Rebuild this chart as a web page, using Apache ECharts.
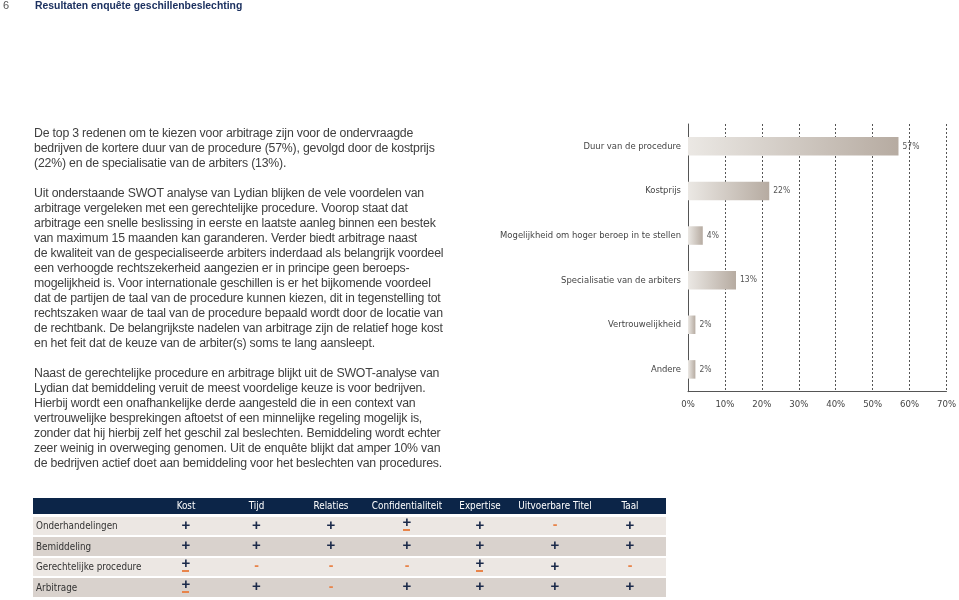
<!DOCTYPE html>
<html>
<head>
<meta charset="utf-8">
<script src="https://cdn.jsdelivr.net/npm/echarts@6/dist/echarts.min.js"></script>
<style>
  html, body { margin:0; padding:0; background:#fff; }
  body { width:959px; height:600px; position:relative; overflow:hidden; }
  #chart { position:absolute; left:0; top:0; width:959px; height:600px; }
  .abs { position:absolute; }
  #pagenum { left:3px; top:-1px; font:11px "Liberation Sans", Arial, sans-serif; color:#555; line-height:13px; }
  #title { left:35px; top:-1px; font:bold 10.4px "Liberation Sans", Arial, sans-serif; color:#1c3160; line-height:13px; }
  #text { left:34px; top:125.5px; width:420px; font:12.3px "Liberation Sans", Arial, sans-serif; letter-spacing:-0.2px; color:#404040; line-height:15px; }
  #text p { margin:0 0 15px 0; white-space:nowrap; }
  #table { left:33px; top:498px; width:633px; font-family:"DejaVu Sans Condensed",sans-serif; font-size:9.8px; white-space:nowrap; }
  .trow { display:grid; grid-template-columns:118px 70px 71px 78px 74px 72px 78px 72px; align-items:center; }
  .thead { background:#0c2548; color:#fff; height:16px; line-height:16px; margin-bottom:2.5px; }
  .tbody { height:18.5px; line-height:18.5px; margin-bottom:2px; color:#333; }
  .tbody.odd { background:#ece7e3; }
  .tbody.even { background:#d9d2cd; }
  .c { text-align:center; position:relative; }
  .lbl { padding-left:3px; }
  .plus { color:#1b2a4a; font:bold 15px "Liberation Sans", Arial, sans-serif; line-height:15px; }
  .minus { color:#e8844a; font:bold 14px "Liberation Sans", Arial, sans-serif; line-height:15px; }
  .pm { display:inline-block; position:relative; color:#1b2a4a; font:bold 15px "Liberation Sans", Arial, sans-serif; line-height:13px; top:-2px; }
  .pm i { position:absolute; left:50%; margin-left:-3.5px; bottom:-3px; width:7px; height:2px; background:#e8844a; }
</style>
</head>
<body>
<div id="chart"></div>
<div id="pagenum" class="abs">6</div>
<div id="title" class="abs">Resultaten enquête geschillenbeslechting</div>
<div id="text" class="abs"></div>
<div id="table" class="abs"></div>
<script>
// ---- chart data ----
const categories = [
  'Duur van de procedure',
  'Kostprijs',
  'Mogelijkheid om hoger beroep in te stellen',
  'Specialisatie van de arbiters',
  'Vertrouwelijkheid',
  'Andere'
];
const values = [57, 22, 4, 13, 2, 2];
const axisTicks = [0, 10, 20, 30, 40, 50, 60, 70];

// ---- page text ----
const pageTitle = 'Resultaten enquête geschillenbeslechting';
const paragraphs = [
  ['De top 3 redenen om te kiezen voor arbitrage zijn voor de ondervraagde',
   'bedrijven de kortere duur van de procedure (57%), gevolgd door de kostprijs',
   '(22%) en de specialisatie van de arbiters (13%).'],
  ['Uit onderstaande SWOT analyse van Lydian blijken de vele voordelen van',
   'arbitrage vergeleken met een gerechtelijke procedure. Voorop staat dat',
   'arbitrage een snelle beslissing in eerste en laatste aanleg binnen een bestek',
   'van maximum 15 maanden kan garanderen. Verder biedt arbitrage naast',
   'de kwaliteit van de gespecialiseerde arbiters inderdaad als belangrijk voordeel',
   'een verhoogde rechtszekerheid aangezien er in principe geen beroeps-',
   'mogelijkheid is. Voor internationale geschillen is er het bijkomende voordeel',
   'dat de partijen de taal van de procedure kunnen kiezen, dit in tegenstelling tot',
   'rechtszaken waar de taal van de procedure bepaald wordt door de locatie van',
   'de rechtbank. De belangrijkste nadelen van arbitrage zijn de relatief hoge kost',
   'en het feit dat de keuze van de arbiter(s) soms te lang aansleept.'],
  ['Naast de gerechtelijke procedure en arbitrage blijkt uit de SWOT-analyse van',
   'Lydian dat bemiddeling veruit de meest voordelige keuze is voor bedrijven.',
   'Hierbij wordt een onafhankelijke derde aangesteld die in een context van',
   'vertrouwelijke besprekingen aftoetst of een minnelijke regeling mogelijk is,',
   'zonder dat hij hierbij zelf het geschil zal beslechten. Bemiddeling wordt echter',
   'zeer weinig in overweging genomen. Uit de enquête blijkt dat amper 10% van',
   'de bedrijven actief doet aan bemiddeling voor het beslechten van procedures.']
];

// ---- table data ----
const tableCols = ['Kost', 'Tijd', 'Relaties', 'Confidentialiteit', 'Expertise', 'Uitvoerbare Titel', 'Taal'];
const tableRows = ['Onderhandelingen', 'Bemiddeling', 'Gerechtelijke procedure', 'Arbitrage'];
const tableValues = [
  ['+', '+', '+', '±', '+', '-', '+'],
  ['+', '+', '+', '+', '+', '+', '+'],
  ['±', '-', '-', '-', '±', '+', '-'],
  ['±', '+', '-', '+', '+', '+', '+']
];

// build text
document.getElementById('title').textContent = pageTitle;
const textEl = document.getElementById('text');
paragraphs.forEach(lines => {
  const p = document.createElement('p');
  lines.forEach((l, i) => {
    if (i) p.appendChild(document.createElement('br'));
    p.appendChild(document.createTextNode(l));
  });
  textEl.appendChild(p);
});

// build table
const tbl = document.getElementById('table');
const head = document.createElement('div');
head.className = 'trow thead';
head.appendChild(document.createElement('div'));
tableCols.forEach(c => { const d = document.createElement('div'); d.className = 'c'; d.textContent = c; head.appendChild(d); });
tbl.appendChild(head);
tableRows.forEach((r, ri) => {
  const row = document.createElement('div');
  row.className = 'trow tbody ' + (ri % 2 === 0 ? 'odd' : 'even');
  const l = document.createElement('div'); l.className = 'lbl'; l.textContent = r; row.appendChild(l);
  tableValues[ri].forEach(v => {
    const d = document.createElement('div'); d.className = 'c';
    const s = document.createElement('span');
    if (v === '+') { s.className = 'plus'; s.textContent = '+'; }
    else if (v === '-') { s.className = 'minus'; s.textContent = '-'; }
    else { s.className = 'pm'; s.textContent = '+'; s.appendChild(document.createElement('i')); s.title = '±'; }
    d.appendChild(s); row.appendChild(d);
  });
  tbl.appendChild(row);
});

// chart
const chart = echarts.init(document.getElementById('chart'), null, { renderer: 'canvas' });
const narrow = '"DejaVu Sans Condensed",sans-serif';
chart.setOption({
  animation: false,
  textStyle: { fontFamily: narrow },
  grid: { left: 688, right: 10.7, top: 124, bottom: 208.3, containLabel: false },
  xAxis: {
    type: 'value', min: axisTicks[0], max: axisTicks[axisTicks.length - 1], interval: axisTicks[1] - axisTicks[0],
    axisLine: { show: true, lineStyle: { color: '#555', width: 1 } },
    axisTick: { show: false },
    axisLabel: { formatter: '{value}%', color: '#444', fontSize: 9.5, margin: 8, fontFamily: narrow },
    splitLine: { show: true, lineStyle: { color: '#555', width: 1, type: [2, 2] } }
  },
  yAxis: {
    type: 'category', data: categories, inverse: true,
    axisLine: { show: true, lineStyle: { color: '#555', width: 1 } },
    axisTick: { show: false },
    axisLabel: { color: '#444', fontSize: 9.4, margin: 7, fontFamily: narrow }
  },
  series: [{
    type: 'bar', data: values, barWidth: 18.5,
    itemStyle: {
      color: new echarts.graphic.LinearGradient(0, 0, 1, 0, [
        { offset: 0, color: '#ebe8e4' },
        { offset: 1, color: '#b6aba1' }
      ])
    },
    label: { show: true, position: 'right', distance: 4, formatter: '{c}%', color: '#555', fontSize: 8.5, fontFamily: narrow }
  }]
});
</script>
</body>
</html>
